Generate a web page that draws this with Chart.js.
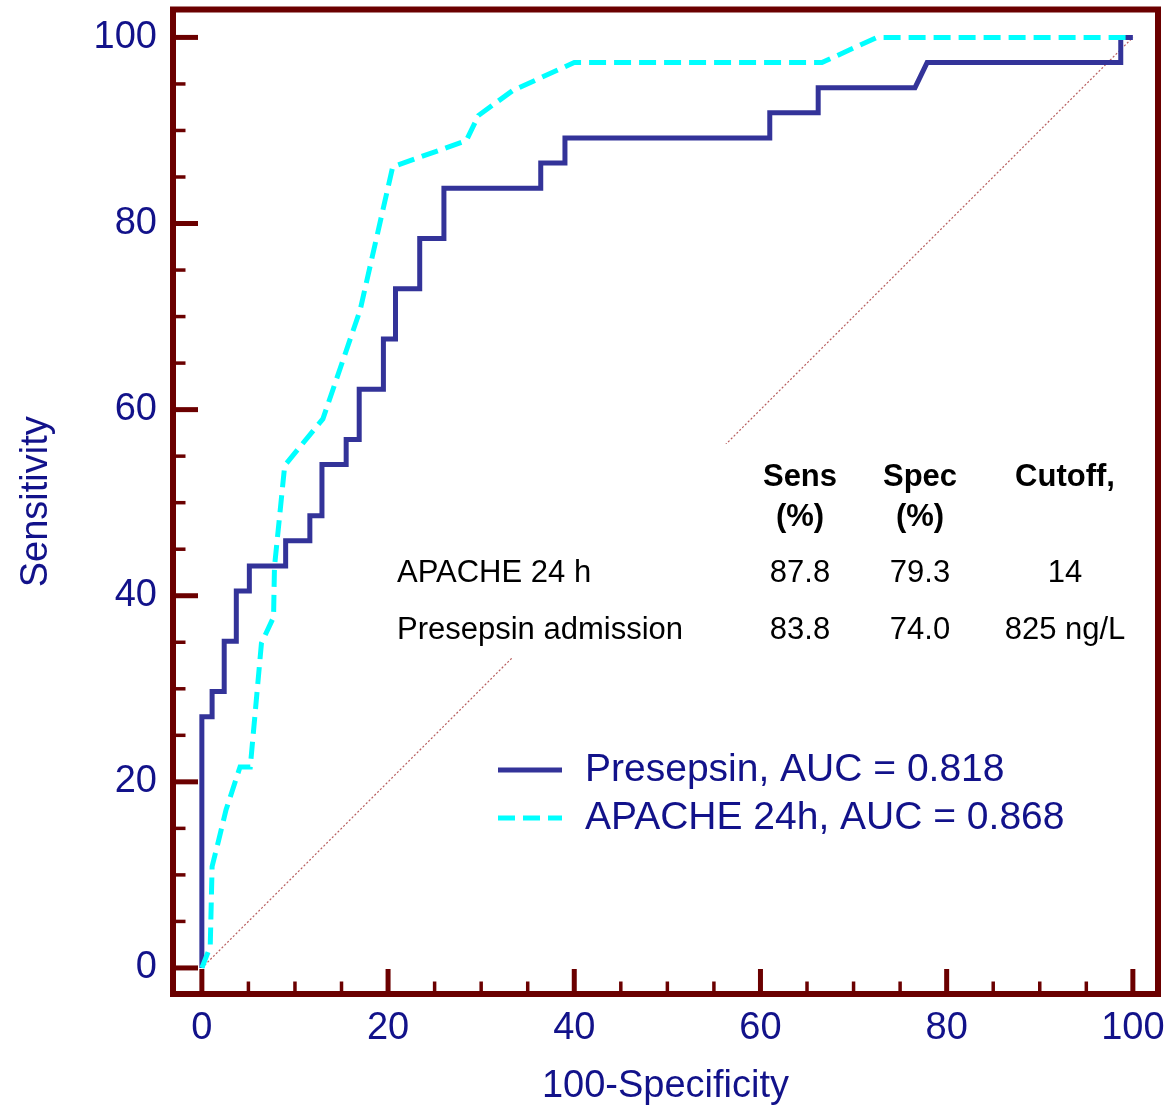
<!DOCTYPE html>
<html>
<head>
<meta charset="utf-8">
<script src="https://cdn.jsdelivr.net/npm/chart.js@4.4.1/dist/chart.umd.min.js"></script>
<style>
    body { margin: 0; background: #fff; }
    #wrap { width: 1170px; height: 1109px; }
</style>
</head>
<body>
<div id="wrap"><canvas id="rocChart" width="1170" height="1109"></canvas></div>
<script>
// ROC points: x = 100-Specificity, y = Sensitivity
const presepsinX = [0, 0, 1.1, 1.1, 2.4, 2.4, 3.7, 3.7, 5.1, 5.1, 9.0, 9.0, 11.6, 11.6, 12.9, 12.9, 15.5, 15.5, 16.9, 16.9,
    19.5, 19.5, 20.8, 20.8, 23.4, 23.4, 26.0, 26.0, 36.4, 36.4, 39.0, 39.0, 61.0, 61.0, 66.2, 66.2, 76.6, 77.9, 98.7, 98.7, 100];
const presepsinY = [0, 27.0, 27.0, 29.7, 29.7, 35.1, 35.1, 40.5, 40.5, 43.2, 43.2, 45.9, 45.9, 48.6, 48.6, 54.1, 54.1, 56.8, 56.8, 62.2,
    62.2, 67.6, 67.6, 73.0, 73.0, 78.4, 78.4, 83.8, 83.8, 86.5, 86.5, 89.2, 89.2, 91.9, 91.9, 94.6, 94.6, 97.3, 97.3, 100, 100];

const apacheX = [0, 0.9, 1.1, 1.8, 2.6, 4.1, 5.2, 6.4, 7.7, 7.8, 8.9, 13.0, 17.0, 20.5, 28.4, 29.7, 33.4, 40.0, 66.6, 72.5, 100];
const apacheY = [0, 2.3, 10.9, 13.7, 17.0, 21.6, 21.6, 34.9, 37.7, 43.1, 54.0, 59.0, 70.7, 86.1, 88.9, 91.6, 94.3, 97.3, 97.3, 100, 100];

const refX = [0, 100];
const refY = [0, 100];

const majorTicks = [0, 20, 40, 60, 80, 100];
const minorTicks = [0, 5, 10, 15, 20, 25, 30, 35, 40, 45, 50, 55, 60, 65, 70, 75, 80, 85, 90, 95, 100];

const seriesLabels = ['Presepsin, AUC = 0.818', 'APACHE 24h, AUC = 0.868'];

// cut-off table
const tableHeaders = [['Sens', '(%)'], ['Spec', '(%)'], ['Cutoff,']];
const tableNames = ['APACHE 24 h', 'Presepsin admission'];
const tableSens = ['87.8', '83.8'];
const tableSpec = ['79.3', '74.0'];
const tableCutoff = ['14', '825 ng/L'];

const toPoints = (xs, ys) => xs.map((v, i) => ({ x: v, y: ys[i] }));

const FONT = "'Liberation Sans', Arial, sans-serif";
const MAROON = '#6b0000';
const NAVY_TEXT = '#12128a';

const frameAndTicks = {
    id: 'frameAndTicks',
    beforeDatasetsDraw(chart) {
        const { ctx, chartArea: a, scales: { x, y } } = chart;
        ctx.save();
        ctx.strokeStyle = MAROON;
        minorTicks.forEach(v => {
            const major = majorTicks.includes(v);
            const len = major ? 25 : 12.5;
            ctx.lineWidth = major ? 5 : 3.5;
            const py = y.getPixelForValue(v);
            ctx.beginPath();
            ctx.moveTo(a.left, py);
            ctx.lineTo(a.left + len, py);
            ctx.stroke();
            const px = x.getPixelForValue(v);
            ctx.beginPath();
            ctx.moveTo(px, a.bottom);
            ctx.lineTo(px, a.bottom - len);
            ctx.stroke();
        });
        ctx.restore();
    },
    afterDatasetsDraw(chart) {
        const { ctx, chartArea: a } = chart;
        ctx.save();
        ctx.strokeStyle = MAROON;
        ctx.lineWidth = 6;
        ctx.strokeRect(a.left, a.top, a.right - a.left, a.bottom - a.top);
        ctx.restore();
    }
};

const tableAndLegend = {
    id: 'tableAndLegend',
    afterDatasetsDraw(chart) {
        const ctx = chart.ctx;
        ctx.save();

        // white panel behind the table
        ctx.fillStyle = '#fff';
        ctx.fillRect(388, 444, 762, 214);

        const cols = [800, 920, 1065];
        ctx.fillStyle = '#000';
        ctx.textBaseline = 'middle';
        ctx.textAlign = 'center';
        ctx.font = 'bold 31px ' + FONT;
        tableHeaders.forEach((lines, i) => {
            lines.forEach((t, j) => ctx.fillText(t, cols[i], 477 + j * 40));
        });

        ctx.font = '31px ' + FONT;
        const rowY = [573, 630];
        tableNames.forEach((name, r) => {
            ctx.textAlign = 'left';
            ctx.fillText(name, 397, rowY[r]);
            ctx.textAlign = 'center';
            ctx.fillText(tableSens[r], cols[0], rowY[r]);
            ctx.fillText(tableSpec[r], cols[1], rowY[r]);
            ctx.fillText(tableCutoff[r], cols[2], rowY[r]);
        });

        // legend
        const legendRows = [0, 1];
        const legendY = [770, 818];
        legendRows.forEach((di, r) => {
            const ds = chart.data.datasets[di];
            ctx.strokeStyle = ds.borderColor;
            ctx.lineWidth = ds.borderWidth;
            ctx.setLineDash(ds.borderDash || []);
            ctx.beginPath();
            ctx.moveTo(498, legendY[r]);
            ctx.lineTo(562, legendY[r]);
            ctx.stroke();
            ctx.setLineDash([]);
            ctx.fillStyle = NAVY_TEXT;
            ctx.textAlign = 'left';
            ctx.font = '39px ' + FONT;
            ctx.fillText(ds.label, 585, legendY[r]);
        });
        ctx.restore();
    }
};

const ctx = document.getElementById('rocChart').getContext('2d');
new Chart(ctx, {
    type: 'scatter',
    data: {
        datasets: [
            {
                label: seriesLabels[0],
                data: toPoints(presepsinX, presepsinY),
                showLine: true,
                borderColor: '#333399',
                borderWidth: 5,
                pointRadius: 0,
                borderJoinStyle: 'miter',
                order: 1,
            },
            {
                label: seriesLabels[1],
                data: toPoints(apacheX, apacheY),
                showLine: true,
                borderColor: '#00ffff',
                borderWidth: 5,
                borderDash: [17, 8],
                pointRadius: 0,
                order: 0,
            },
            {
                label: 'reference',
                data: toPoints(refX, refY),
                showLine: true,
                borderColor: 'rgba(160, 40, 40, 0.75)',
                borderWidth: 1.2,
                borderDash: [2, 2],
                pointRadius: 0,
                order: 2,
            },
        ],
    },
    options: {
        responsive: false,
        animation: false,
        layout: { padding: { top: 9.5, right: 12, left: 0, bottom: 0 } },
        plugins: {
            legend: { display: false },
            tooltip: { enabled: false },
        },
        scales: {
            x: {
                type: 'linear',
                min: -3.1,
                max: 102.7,
                grid: { display: false, drawTicks: false },
                border: { display: false },
                afterBuildTicks: axis => { axis.ticks = majorTicks.map(v => ({ value: v })); },
                afterFit: axis => {
                    axis.height = 115;
                    axis.paddingLeft = 0;
                    axis.paddingRight = 0;
                },
                ticks: {
                    padding: 16,
                    color: NAVY_TEXT,
                    maxRotation: 0,
                    font: { family: FONT, size: 38, lineHeight: 1 },
                },
                title: {
                    display: true,
                    text: '100-Specificity',
                    color: NAVY_TEXT,
                    padding: { top: 0, bottom: 3 },
                    font: { family: FONT, size: 38, lineHeight: 1 },
                },
            },
            y: {
                type: 'linear',
                min: -2.8,
                max: 103,
                grid: { display: false, drawTicks: false },
                border: { display: false },
                afterBuildTicks: axis => { axis.ticks = majorTicks.map(v => ({ value: v })); },
                afterFit: axis => {
                    axis.width = 173;
                    axis.paddingTop = 0;
                    axis.paddingBottom = 0;
                },
                ticks: {
                    padding: 16,
                    color: NAVY_TEXT,
                    font: { family: FONT, size: 38, lineHeight: 1 },
                },
                title: {
                    display: true,
                    text: 'Sensitivity',
                    color: NAVY_TEXT,
                    padding: { top: 18, bottom: 0 },
                    font: { family: FONT, size: 38, lineHeight: 1 },
                },
            },
        },
    },
    plugins: [frameAndTicks, tableAndLegend],
});
</script>
</body>
</html>
